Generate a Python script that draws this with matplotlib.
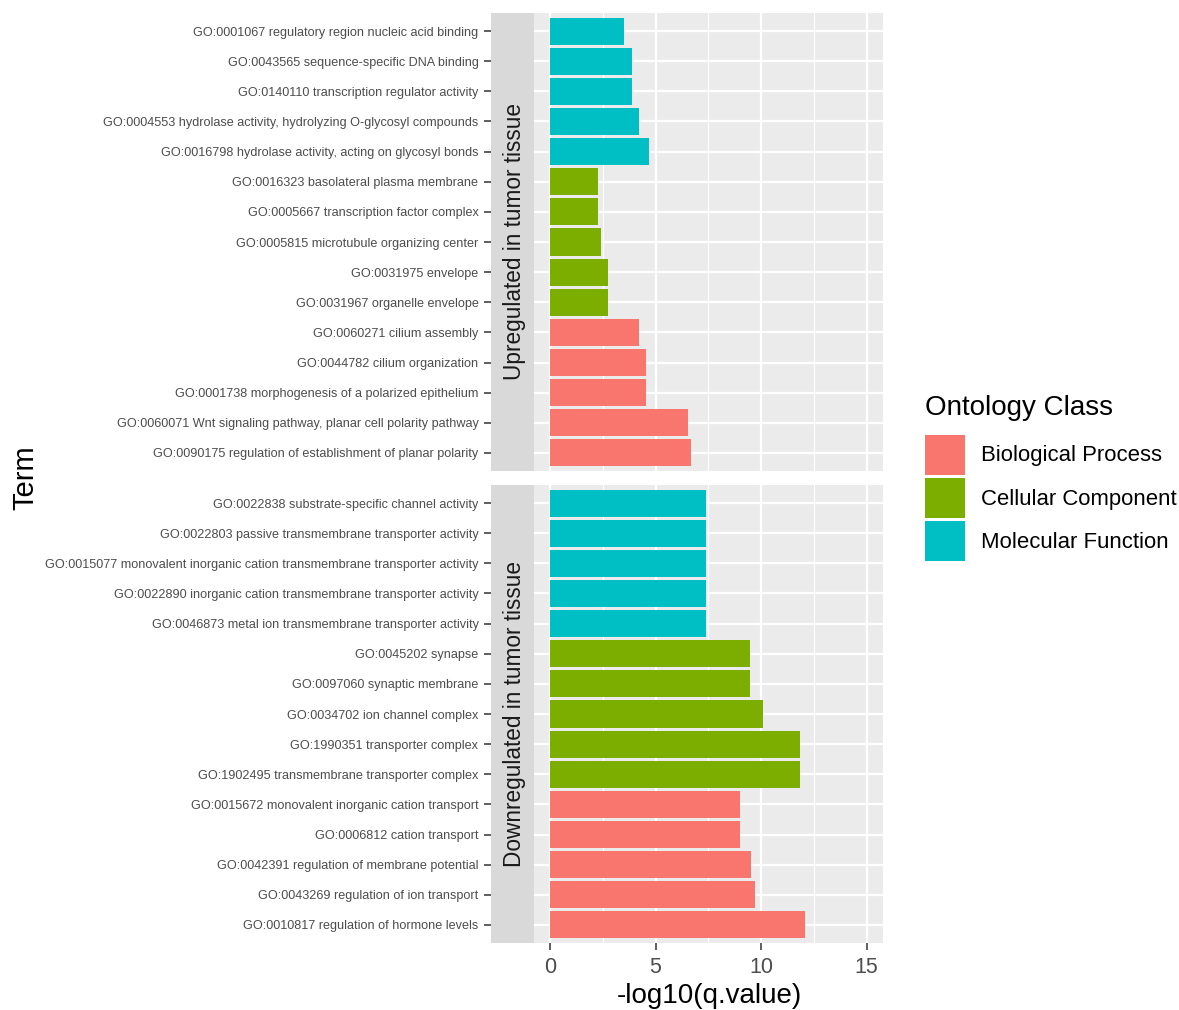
import matplotlib
matplotlib.use("Agg")
import matplotlib.pyplot as plt
from matplotlib.patches import Rectangle

plt.rcParams['font.family'] = ['Liberation Sans', 'DejaVu Sans']

# ---- data (top-to-bottom order within each facet) ----
up_terms = [
    "GO:0001067 regulatory region nucleic acid binding",
    "GO:0043565 sequence-specific DNA binding",
    "GO:0140110 transcription regulator activity",
    "GO:0004553 hydrolase activity, hydrolyzing O-glycosyl compounds",
    "GO:0016798 hydrolase activity, acting on glycosyl bonds",
    "GO:0016323 basolateral plasma membrane",
    "GO:0005667 transcription factor complex",
    "GO:0005815 microtubule organizing center",
    "GO:0031975 envelope",
    "GO:0031967 organelle envelope",
    "GO:0060271 cilium assembly",
    "GO:0044782 cilium organization",
    "GO:0001738 morphogenesis of a polarized epithelium",
    "GO:0060071 Wnt signaling pathway, planar cell polarity pathway",
    "GO:0090175 regulation of establishment of planar polarity",
]
up_values = [3.52, 3.87, 3.87, 4.22, 4.69, 2.29, 2.29, 2.43, 2.73, 2.73,
             4.22, 4.55, 4.55, 6.55, 6.66]
up_class = ["MF"] * 5 + ["CC"] * 5 + ["BP"] * 5

down_terms = [
    "GO:0022838 substrate-specific channel activity",
    "GO:0022803 passive transmembrane transporter activity",
    "GO:0015077 monovalent inorganic cation transmembrane transporter activity",
    "GO:0022890 inorganic cation transmembrane transporter activity",
    "GO:0046873 metal ion transmembrane transporter activity",
    "GO:0045202 synapse",
    "GO:0097060 synaptic membrane",
    "GO:0034702 ion channel complex",
    "GO:1990351 transporter complex",
    "GO:1902495 transmembrane transporter complex",
    "GO:0015672 monovalent inorganic cation transport",
    "GO:0006812 cation transport",
    "GO:0042391 regulation of membrane potential",
    "GO:0043269 regulation of ion transport",
    "GO:0010817 regulation of hormone levels",
]
down_values = [7.38, 7.38, 7.38, 7.38, 7.38, 9.46, 9.46, 10.07, 11.83, 11.83,
               9.00, 9.00, 9.52, 9.70, 12.07]
down_class = ["MF"] * 5 + ["CC"] * 5 + ["BP"] * 5

facet_labels = ["Upregulated in tumor tissue", "Downregulated in tumor tissue"]
class_names = {"BP": "Biological Process", "CC": "Cellular Component", "MF": "Molecular Function"}
class_colors = {"BP": "#F8766D", "CC": "#7CAE00", "MF": "#00BFC4"}
x_ticks = [0, 5, 10, 15]

XMIN, XMAX = -2.79, 15.77
STRIP_RIGHT = -0.76

fig = plt.figure(figsize=(11.79, 10.10), dpi=100)
W, H = 1179, 1010

def px_axes(left, top, right, bottom):
    return fig.add_axes([left / W, 1 - bottom / H, (right - left) / W, (bottom - top) / H])

ax_top = px_axes(491, 13, 883, 471)
ax_bot = px_axes(491, 485, 883, 943)

panels = [(ax_top, up_terms, up_values, up_class, facet_labels[0]),
          (ax_bot, down_terms, down_values, down_class, facet_labels[1])]

for i, (ax, terms, vals, cls, flab) in enumerate(panels):
    n = len(terms)
    ys = list(range(n))
    ax.set_facecolor("#EBEBEB")
    for s in ax.spines.values():
        s.set_visible(False)
    ax.barh(ys, vals, height=0.9, color=[class_colors[c] for c in cls],
            edgecolor="none", zorder=3)
    ax.set_xlim(XMIN, XMAX)
    ax.set_ylim(n - 1 + 0.6, -0.6)
    ax.set_yticks(ys)
    ax.set_yticklabels(terms, fontsize=9.05, color="#4D4D4D")
    ax.set_xticks(x_ticks)
    ax.set_xticks([-2.5, 2.5, 7.5, 12.5], minor=True)
    ax.set_yticks([], minor=True)
    ax.grid(True, which="major", color="white", linewidth=1.6, zorder=1)
    ax.grid(True, which="minor", axis="x", color="white", linewidth=0.8, zorder=1)
    ax.tick_params(axis="y", which="major", length=5, width=1.1, color="#333333", pad=4)
    ax.tick_params(axis="x", which="major", length=5, width=1.1, color="#333333",
                   labelsize=15.5, labelcolor="#4D4D4D", pad=5)
    ax.tick_params(which="minor", length=0)
    ax.set_axisbelow(True)
    # facet strip placed inside the panel on the left
    ax.add_patch(Rectangle((XMIN, n - 1 + 0.6), STRIP_RIGHT - XMIN, -(n + 0.2),
                           facecolor="#D9D9D9", edgecolor="none", zorder=2))
    ax.text((XMIN + STRIP_RIGHT) / 2 + 0.1, (n - 1) / 2, flab, rotation=90,
            ha="center", va="center", fontsize=16.3, color="#1A1A1A", zorder=4)
    if i == 0:
        ax.tick_params(axis="x", which="both", bottom=False, labelbottom=False)

fig.text(709 / W, 1 - 996 / H, "-log10(q.value)", ha="center", va="center",
         fontsize=20, color="black")
fig.text(25 / W, 1 - 478 / H, "Term", rotation=90, ha="center", va="center",
         fontsize=21, color="black")

# legend
fig.text(925 / W, 1 - 408 / H, "Ontology Class", ha="left", va="center",
         fontsize=20, color="black")
key_tops = [435, 478, 521]
for top, key in zip(key_tops, ["BP", "CC", "MF"]):
    fig.add_artist(Rectangle((925 / W, 1 - (top + 40) / H), 40 / W, 40 / H,
                             transform=fig.transFigure, facecolor=class_colors[key],
                             edgecolor="none"))
    fig.text(981 / W, 1 - (top + 21) / H, class_names[key], ha="left", va="center",
             fontsize=15.9, color="black")

fig.savefig("out.png", dpi=100, facecolor="white")
